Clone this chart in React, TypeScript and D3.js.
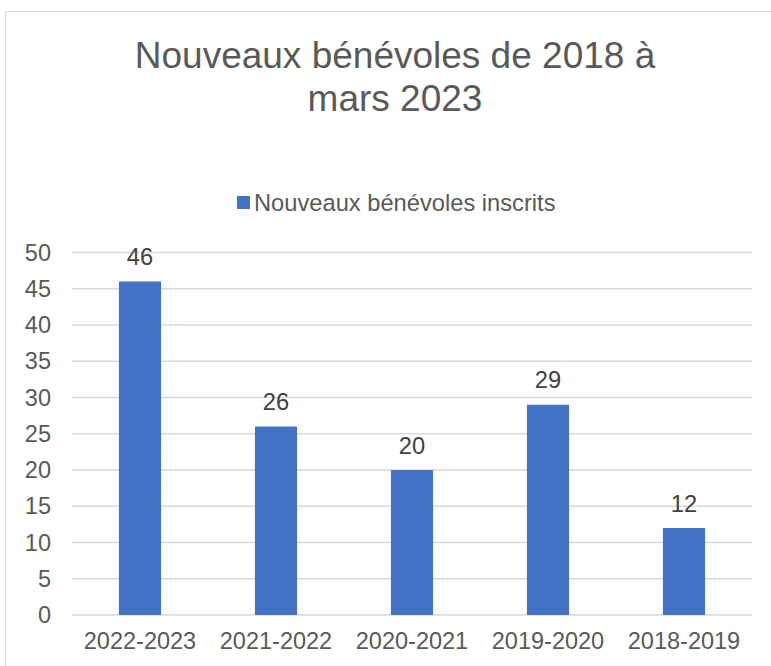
import React from "react";
import * as d3 from "d3";

const categories = ["2022-2023", "2021-2022", "2020-2021", "2019-2020", "2018-2019"];
const values = [46, 26, 20, 29, 12];
const yTicks = [0, 5, 10, 15, 20, 25, 30, 35, 40, 45, 50];
const titleLines = ["Nouveaux bénévoles de 2018 à", "mars 2023"];
const seriesName = "Nouveaux bénévoles inscrits";

const W = 771;
const H = 666;
const left = 72;
const right = 752;
const top = 252.5;
const bottom = 615;
const font = "'Liberation Sans', Arial, sans-serif";
const textColor = "#595959";
const barColor = "#4472C4";

export default function App() {
  const x = d3.scaleBand<string>().domain(categories).range([left, right]).paddingInner(0.69).paddingOuter(0.345);
  const y = d3.scaleLinear().domain([0, 50]).range([bottom, top]);
  return (
    <svg width={W} height={H} style={{ position: "absolute", left: 0, top: 0 }} fontFamily={font}>
      <rect x={0} y={0} width={W} height={H} fill="#fff" />
      <rect x={5.5} y={11.5} width={W + 10} height={H + 10} fill="none" stroke="#d9d9d9" strokeWidth={1} />
      {titleLines.map((t, i) => (
        <text key={i} x={395} y={68 + i * 43} textAnchor="middle" fontSize={37} fill={textColor}>
          {t}
        </text>
      ))}
      <rect x={237} y={196} width={13} height={13} fill={barColor} />
      <text x={254} y={210.5} fontSize={23.7} fill={textColor}>
        {seriesName}
      </text>
      {yTicks.map((t) => (
        <g key={t}>
          <line x1={left} x2={right} y1={y(t)} y2={y(t)} stroke="#d9d9d9" strokeWidth={1.3} />
          <text x={51} y={y(t) + 8} textAnchor="end" fontSize={23.5} fill={textColor}>
            {t}
          </text>
        </g>
      ))}
      {categories.map((c, i) => {
        const bx = x(c)!;
        const bw = x.bandwidth();
        return (
          <g key={c}>
            <rect x={bx} y={y(values[i])} width={bw} height={y(0) - y(values[i])} fill={barColor} />
            <text x={bx + bw / 2} y={y(values[i]) - 16.5} textAnchor="middle" fontSize={23.7} fill="#404040">
              {values[i]}
            </text>
            <text x={bx + bw / 2} y={649} textAnchor="middle" fontSize={23.5} fill={textColor}>
              {c}
            </text>
          </g>
        );
      })}
    </svg>
  );
}
